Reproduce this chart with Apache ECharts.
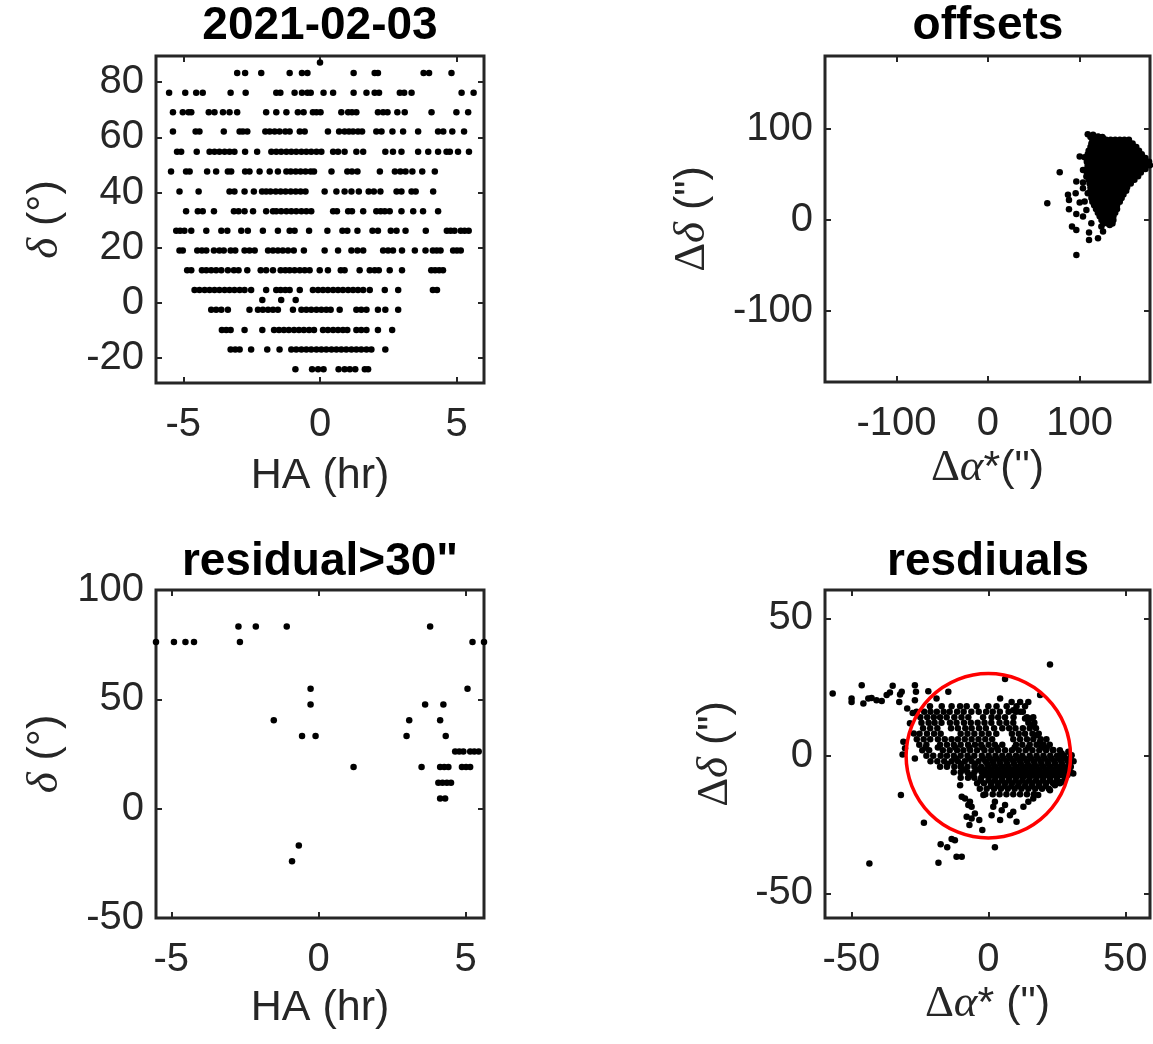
<!DOCTYPE html>
<html><head><meta charset="utf-8">
<script src="https://cdn.jsdelivr.net/npm/echarts@6/dist/echarts.min.js"></script>
<style>html,body{margin:0;padding:0;background:#fff}#c{width:1153px;height:1044px}</style>
</head><body><div id="c"></div>
<script>
// ---------- Panel 1: 2021-02-03 (HA hr, dec deg) ----------
const decRowValues = [87.1, 83.3, 76.2, 69.1, 62.1, 54.8, 47.6, 40.4, 33.2, 26.2, 19.0, 11.9, 4.7, 1.1, -2.5, -9.8, -16.9, -24.0];
const haDec87 = [0.00];
const haDec83 = [-3.03,-2.74,-2.15,-1.11,-0.66,-0.46,1.23,2.00,2.12,3.79,3.99,4.81];
const haDec76 = [-5.52,-4.93,-4.53,-4.29,-3.27,-2.72,-1.60,-1.45,-0.93,-0.66,-0.46,-0.34,0.13,0.48,1.23,1.70,2.00,2.16,2.92,3.08,3.35,5.18,5.62];
const haDec69 = [-5.38,-5.02,-4.81,-4.71,-4.07,-3.86,-3.55,-3.31,-3.03,-1.97,-1.60,-1.23,-0.81,-0.60,-0.26,-0.13,0.02,0.78,1.03,1.17,1.33,2.12,2.31,2.47,2.83,3.10,4.08,4.99,5.42];
const haDec62 = [-5.38,-4.55,-4.41,-3.52,-2.94,-2.82,-2.66,-2.00,-1.84,-1.66,-1.48,-1.27,-1.11,-0.74,-0.56,0.29,0.70,0.90,1.06,1.21,1.39,1.54,2.06,2.25,2.65,3.04,3.59,4.32,4.51,4.84,5.27];
const haDec55 = [-5.23,-5.08,-4.51,-4.04,-3.86,-3.68,-3.49,-3.31,-3.13,-2.74,-2.30,-1.78,-1.60,-1.42,-1.23,-1.05,-0.87,-0.68,-0.50,-0.32,-0.13,0.05,0.48,0.66,0.90,1.33,1.58,2.39,2.67,2.98,3.59,3.96,4.32,4.63,4.75,5.05,5.45];
const haDec48 = [-5.45,-4.90,-4.77,-4.13,-3.80,-3.37,-3.25,-2.74,-2.58,-2.21,-1.84,-1.54,-1.23,-1.07,-0.89,-0.71,-0.53,-0.34,-0.22,0.42,1.00,1.17,1.37,2.19,2.74,2.94,3.13,3.38,3.74,4.20];
const haDec40 = [-5.14,-4.44,-3.31,-3.13,-2.76,-2.42,-2.12,-1.97,-1.81,-1.62,-1.44,-1.26,-1.07,-0.89,-0.71,-0.53,0.17,0.60,0.90,1.15,1.42,1.78,1.97,2.21,2.80,2.98,3.35,3.50,4.14];
const haDec33 = [-4.90,-4.47,-4.29,-3.88,-3.15,-2.98,-2.76,-2.45,-1.97,-1.72,-1.60,-1.42,-1.23,-1.05,-0.87,-0.68,-0.50,-0.32,0.48,0.62,1.03,1.17,1.58,2.06,2.22,2.37,2.55,2.98,3.41,3.77,4.32];
const haDec26 = [-5.26,-5.12,-4.96,-4.71,-4.16,-3.61,-3.39,-2.88,-2.64,-2.09,-1.54,-1.11,-0.93,-0.40,0.27,0.82,1.00,1.37,1.92,2.12,2.59,2.80,3.13,3.87,4.64,4.78,4.92,5.15,5.29,5.44];
const haDec19 = [-5.14,-5.02,-4.49,-4.32,-4.16,-3.88,-3.68,-3.52,-3.27,-3.10,-2.76,-2.58,-2.39,-1.90,-1.72,-1.54,-1.36,-1.17,-0.96,-0.59,0.17,0.66,1.15,1.37,1.58,2.31,2.49,2.67,3.00,3.47,3.86,4.13,4.27,4.41,4.87,5.01,5.15];
const haDec12 = [-4.86,-4.71,-4.32,-4.16,-3.98,-3.80,-3.61,-3.37,-3.15,-2.98,-2.66,-2.17,-1.97,-1.72,-1.44,-1.27,-1.11,-0.93,-0.74,-0.56,-0.38,-0.01,0.29,0.76,0.90,1.45,1.82,2.00,2.15,2.55,3.00,4.07,4.21,4.36,4.50];
const haDec5 = [-4.59,-4.41,-4.22,-4.04,-3.86,-3.68,-3.49,-3.31,-3.13,-2.94,-2.76,-2.52,-1.97,-1.60,-1.44,-1.27,-1.11,-0.74,-0.26,-0.07,0.11,0.29,0.48,0.66,0.84,1.03,1.21,1.39,1.58,1.82,2.37,2.86,4.13,4.28];
const haDec1 = [-2.11,-1.42,-0.89];
const haDecM2 = [-3.98,-3.80,-3.61,-3.37,-2.58,-2.27,-2.09,-1.90,-1.72,-1.54,-0.99,-0.68,-0.50,-0.32,-0.13,0.05,0.23,0.39,0.72,1.33,1.51,1.70,2.12,2.39,2.86];
const haDecM10 = [-3.59,-3.43,-3.27,-2.76,-2.11,-1.68,-1.50,-1.32,-1.14,-0.95,-0.77,-0.59,-0.40,-0.22,0.11,0.29,0.48,0.66,0.84,1.00,1.33,1.51,1.70,2.12,2.64];
const haDecM17 = [-3.27,-3.10,-2.94,-2.52,-1.93,-1.48,-1.05,-0.87,-0.68,-0.50,-0.32,-0.13,0.05,0.23,0.42,0.60,0.78,0.96,1.15,1.33,1.51,1.70,1.88,2.39];
const haDecM24 = [-0.90,-0.29,-0.07,0.13,0.68,0.90,1.09,1.29,1.64,1.76];
const haRows = [haDec87,haDec83,haDec76,haDec69,haDec62,haDec55,haDec48,haDec40,haDec33,haDec26,haDec19,haDec12,haDec5,haDec1,haDecM2,haDecM10,haDecM17,haDecM24];

// ---------- Panel 3: residual>30" (HA, dec) ----------
const bigResidualPoints = [[-5.52,76.2],[-4.91,76.2],[-4.52,76.2],[-4.23,76.2],[-2.72,83.3],[-2.67,76.2],[-2.13,83.3],[-1.08,83.3],
 [-0.27,54.8],[-0.27,47.6],[-1.52,40.4],[-0.56,33.2],[-0.10,33.2],[1.19,19.0],[-0.67,-16.9],[-0.90,-24.0],[3.79,83.3],[5.23,76.2],[5.62,76.2],
 [5.06,54.8],[3.62,47.6],[4.24,47.6],[3.08,40.4],[4.13,40.4],[2.99,33.2],[4.32,33.2],[4.64,26.2],[4.78,26.2],[4.92,26.2],[5.15,26.2],[5.29,26.2],[5.44,26.2],
 [3.50,19.0],[4.13,19.0],[4.27,19.0],[4.41,19.0],[4.87,19.0],[5.01,19.0],[5.15,19.0],[4.07,11.9],[4.21,11.9],[4.36,11.9],[4.50,11.9],[4.13,4.7],[4.30,4.7]];

// ---------- Panel 2: offsets (arcsec) ----------
const offsetSparse = [[64.8,18.3],[78.4,52.4],[96.6,-38.5],[100.2,69.6],[105.6,68.9],[96.5,42.1],[103.8,41.0],[87.4,27.5],[88.5,22.0],[95.8,29.3],
 [100.2,19.0],[105.6,20.1],[88.5,11.7],[96.5,6.6],[103.8,3.7],[91.8,-7.3],[96.5,-11.0],[110.4,-13.9],[110.4,-22.0],[120.2,-20.1],[112.9,-3.7],
 [123.9,-7.3],[125.7,-12.8],[133.0,-5.5],[107.5,11.0],[109.0,29.3],[103.8,34.8],[107.5,47.6],[103.8,54.9],[114.8,93.4],[120.2,91.6],[125.7,89.7]];
const offsetCoreY = [94, 91, 88, 84, 80, 76, 72, 68, 64, 60, 56, 52, 48, 44, 40, 36, 32, 28, 24, 20, 16, 12, 8, 4, 0, -4];
const offX94 = [109];
const offX91 = [112,116,121,125];
const offX88 = [114,119,124,129,134,139,144,149,154];
const offX84 = [113,118,123,128,133,138,143,148,153,158];
const offX80 = [112,117,122,127,132,137,142,147,152,157,162];
const offX76 = [110,115,120,125,130,135,140,145,150,155,160,165];
const offX72 = [109,114,119,124,129,134,139,144,149,154,159,164,168];
const offX68 = [108,113,118,123,128,133,138,143,148,153,158,163,168,172];
const offX64 = [108,113,118,123,128,133,138,143,148,153,158,163,168,172,176];
const offX60 = [109,114,119,124,129,134,139,144,149,154,159,164,169,174,177];
const offX56 = [108,113,118,123,128,133,138,143,148,153,158,163,168,172];
const offX52 = [108,113,118,123,128,133,138,143,148,153,158,163,167];
const offX48 = [109,114,119,124,129,134,139,144,149,154,159,164];
const offX44 = [110,115,120,125,130,135,140,145,150,155,160];
const offX40 = [111,116,121,126,131,136,141,146,151,156];
const offX36 = [112,117,122,127,132,137,142,147,152];
const offX32 = [112,117,122,127,132,137,142,147,151];
const offX28 = [113,118,123,128,133,138,143,148];
const offX24 = [113,118,123,128,133,138,143,146];
const offX20 = [114,119,124,129,134,139,144];
const offX16 = [116,121,126,131,136,141];
const offX12 = [118,123,128,133,138,141];
const offX8 = [120,125,130,135,139];
const offX4 = [122,127,132,137];
const offX0 = [124,129,134,137];
const offXm4 = [126,131,136];
const offRows = [offX94,offX91,offX88,offX84,offX80,offX76,offX72,offX68,offX64,offX60,offX56,offX52,offX48,offX44,offX40,offX36,offX32,offX28,offX24,offX20,offX16,offX12,offX8,offX4,offX0,offXm4];

// ---------- Panel 4: residuals (arcsec) ----------
const residSparse = [[22.5,33.2],[-56.8,22.7],[-46.2,25.7],[-49.9,20.8],[-49.9,19.6],[-45.6,19.0],[-43.8,20.8],[-42.6,21.0],[-40.8,20.2],[-38.9,19.9],
 [-37.1,22.1],[-35.9,23.0],[-34.9,25.5],[-32.2,22.3],[-31.6,23.3],[-32.5,19.6],[-26.8,25.7],[-26.4,23.3],[-26.8,20.2],[-21.9,23.5],[-18.9,20.8],
 [-14.6,23.3],[6.1,27.9],[18.9,22.1],[-29.6,17.2],[-27.6,15.6],[-28.6,11.8],[-27.2,8.1],[-31.0,5.1],[-30.4,2.7],[-31.3,0.5],[-26.8,-1.0],
 [-31.9,-14.3],[-23.5,-24.4],[-43.4,-39.2],[-18.2,-38.9],[-17.4,-32.2],[-15.0,-33.3],[-13.4,-30.3],[-12.2,-30.7],[-11.6,-36.7],[-9.7,-36.7],
 [2.4,-33.3],[-2.2,-27.0],[-7.9,-22.2],[-6.1,-22.8],[-4.9,-21.0],[-3.3,-23.4],[-6.9,-25.2],[-10.3,-10.7],[-9.7,-14.9],[-8.5,-15.5],[-7.3,-17.9],
 [-6.7,-16.7],[-6.1,-18.5],[-1.8,-14.3],[1.8,-18.5],[1.2,-21.6],[2.4,-16.7],[4.9,-19.8],[6.1,-17.9],[7.9,-21.6],[9.1,-20.4],[10.3,-24.0],[4.3,-23.4],
 [12.8,-18.5],[14.6,-16.7],[16.4,-15.5],[18.2,-14.3],[31.0,-6.4],[30.4,0.2],[29.2,1.5],[26.8,0.8],[23.7,2.1],[26.2,-1.0],[22.5,-12.5],[24.3,-10.7],
 [26.8,-9.5],[28.0,-7.0],[29.2,-4.0],[4.3,20.8],[8.5,19.6],[11.6,19.6],[14.6,19.6],[9.1,16.6],[11.6,16.0],[13.4,13.6],[15.2,13.6],[16.4,11.2],
 [17.6,7.5],[18.9,5.1],[20.1,3.9],[21.3,2.7]];
const residCoreY = [18, 16, 14, 12, 10, 8, 6, 4, 3, 2, 0, -1, -2, -3, -4, -5, -6, -7, -8, -9, -10, -11, -12, -14];
const resX18 = [-21.3,-17.0,-13.4,-10.3,-7.9,-4.3,0.0,3.0,6.7,10.3,13.4];
const resX16 = [-26.2,-23.4,-21.1,-18.8,-16.3,-14.1,-11.4,-9.0,-6.2,-3.5,-0.8,1.6,4.2,7.4,10.1,12.6];
const resX14 = [-24.8,-22.3,-19.9,-17.6,-15.2,-12.4,-9.8,-7.3,-1.9,1.2,3.6,6.1,9.2,14.1,16.4];
const resX12 = [-24.4,-21.8,-19.6,-17.1,-14.0,-11.6,-8.9,-6.4,-3.9,-1.4,1.1,4.1,6.6,9.1,14.6,16.8];
const resX10 = [-23.8,-21.2,-18.6,-13.6,-11.1,-8.4,-6.1,-3.4,-0.9,2.1,5.1,7.6,9.9,12.6,15.1,17.4];
const resX8 = [-25.1,-22.4,-19.8,-17.4,-10.1,-7.6,-5.1,-2.4,0.1,2.9,8.6,11.1,13.4,16.1,18.4];
const resX6 = [-26.1,-23.6,-21.2,-18.4,-15.9,-13.4,-11.1,-8.6,-6.1,-3.6,-1.1,1.4,9.1,11.6,14.1,16.4,19.1,21.2];
const resX4 = [-25.2,-22.6,-17.6,-15.1,-12.6,-10.1,-7.4,-4.9,-2.6,0.1,2.4,5.1,10.1,12.4,15.1,17.6,20.1,22.4];
const resX3 = [-22.9,-18.4,-12.1,-6.9,-2.1,3.1,9.6,14.6,19.4];
const resX2 = [-24.1,-21.6,-16.6,-14.1,-11.4,-9.1,-6.6,-4.1,-1.4,1.1,3.6,6.1,8.6,11.1,13.6,16.1,18.6,21.1,23.6,26.1];
const resX0 = [-22.6,-20.1,-17.4,-15.1,-12.6,-10.1,-7.6,-5.1,-2.4,0.1,2.6,5.1,7.6,10.1,12.4,15.1,17.6,20.1,22.6,25.1,27.6,30.1];
const resXm1 = [-11.9,-6.9,-1.9,0.6,3.1,5.6,8.1,10.6,13.1,15.6,18.1,20.6,23.1,25.6,28.1];
const resXm2 = [-21.1,-18.6,-16.1,-13.4,-11.1,-8.6,-6.1,-3.6,-1.1,1.6,4.1,6.6,9.1,11.6,14.1,16.6,19.1,21.6,24.1,26.6,29.1,31.1];
const resXm3 = [-14.9,-9.9,-4.9,-0.4,1.9,4.4,6.9,9.4,11.9,14.4,16.9,19.4,21.9,24.4,26.9,29.4];
const resXm4 = [-17.6,-15.1,-12.4,-10.1,-7.6,-5.1,-2.6,0.1,2.6,5.1,7.4,10.1,12.6,15.1,17.6,20.1,22.6,25.1,27.4,30.1];
const resXm5 = [-8.9,-3.9,-1.4,1.1,3.6,6.1,8.6,11.1,13.6,16.1,18.6,21.1,23.6,26.1,28.6];
const resXm6 = [-12.6,-10.1,-7.6,-5.1,-2.4,0.1,2.6,5.1,7.6,10.1,12.6,15.1,17.4,20.1,22.6,25.1,27.6,30.1];
const resXm7 = [-6.4,-1.4,1.4,3.9,6.4,8.9,11.4,13.9,16.4,18.9,21.4,23.9,26.4,28.9];
const resXm8 = [-10.1,-7.4,-5.1,-2.6,0.1,2.6,5.1,7.6,10.1,12.6,15.1,17.6,20.1,22.6,25.1,27.9];
const resXm9 = [-2.9,0.1,2.4,4.9,7.4,9.9,12.4,14.9,17.4,19.9,22.4,24.9];
const resXm10 = [-4.1,-1.6,1.1,3.6,6.1,8.6,11.1,13.6,16.1,18.6,21.1,23.6,26.1];
const resXm11 = [0.9,3.4,5.9,8.4,10.9,13.4,15.9,18.4,20.9];
const resXm12 = [-3.1,-0.6,2.1,4.6,7.1,9.6,12.1,14.6,17.1,19.6,22.1];
const resXm14 = [-1.1,1.6,4.1,6.6,9.1,11.6,14.1,16.6];
const resRows = [resX18,resX16,resX14,resX12,resX10,resX8,resX6,resX4,resX3,resX2,resX0,resXm1,resXm2,resXm3,resXm4,resXm5,resXm6,resXm7,resXm8,resXm9,resXm10,resXm11,resXm12,resXm14];
const circleCenter = [0, 0];
const circleRadius = 30;

// ---------- Axis ticks ----------
const ticksHA1 = [-5, 0, 5];
const ticksDec1 = [-20, 0, 20, 40, 60, 80];
const ticksOff = [-100, 0, 100];
const ticksHA3 = [-5, 0, 5];
const ticksDec3 = [-50, 0, 50, 100];
const ticksRes = [-50, 0, 50];

// ---------- Build series data ----------
function rowsToPairs(rows, ys) {
  const out = [];
  rows.forEach((xs, i) => xs.forEach(x => out.push([x, ys[i]])));
  return out;
}
const panel1Data = rowsToPairs(haRows, decRowValues);
const offsetData = offsetSparse.concat(rowsToPairs(offRows, offsetCoreY));
const residData = residSparse.concat(rowsToPairs(resRows, residCoreY));

const C = '#262626';
const SANS = 'Liberation Sans';
const SERIF = 'Liberation Serif';
const TICK_FS = 40, NAME_FS = 43;
const richMath = {
  g: {fontFamily: SERIF, fontStyle: 'italic', fontSize: NAME_FS + 2, color: C},
  u: {fontFamily: SERIF, fontSize: NAME_FS + 2, color: C}
};

const grids = [
  {left: 156, top: 56, width: 328, height: 327},
  {left: 825, top: 56, width: 325, height: 326},
  {left: 156, top: 590, width: 328, height: 328},
  {left: 825, top: 590, width: 325, height: 328}
].map(g => Object.assign({show: true, borderColor: C, borderWidth: 3, backgroundColor: 'transparent'}, g));

const xAxes = [], yAxes = [];
function addAxes(gi, xr, yr, xt, yt, xName, yName, xGap, yGap) {
  const tick = vals => ({show: true, inside: true, length: 6, lineStyle: {color: C, width: 2}, customValues: vals});
  const lab = (vals, m) => ({show: true, customValues: vals, color: C, fontSize: TICK_FS, fontFamily: SANS, margin: m});
  const nts = {fontSize: NAME_FS, fontFamily: SANS, color: C, rich: richMath};
  xAxes.push({type: 'value', gridIndex: gi, position: 'bottom', min: xr[0], max: xr[1],
    axisLine: {show: false, onZero: false}, axisTick: tick(xt), axisLabel: lab(xt, 22), splitLine: {show: false},
    name: xName, nameLocation: 'middle', nameGap: xGap, nameTextStyle: nts});
  xAxes.push({type: 'value', gridIndex: gi, position: 'top', min: xr[0], max: xr[1],
    axisLine: {show: false, onZero: false}, axisTick: tick(xt), axisLabel: {show: false}, splitLine: {show: false}});
  yAxes.push({type: 'value', gridIndex: gi, position: 'left', min: yr[0], max: yr[1],
    axisLine: {show: false, onZero: false}, axisTick: tick(yt), axisLabel: lab(yt, 12), splitLine: {show: false},
    name: yName, nameLocation: 'middle', nameGap: yGap, nameRotate: 90, nameTextStyle: nts});
  yAxes.push({type: 'value', gridIndex: gi, position: 'right', min: yr[0], max: yr[1],
    axisLine: {show: false, onZero: false}, axisTick: tick(yt), axisLabel: {show: false}, splitLine: {show: false}});
}
addAxes(0, [-6, 6], [-29, 89.5], ticksHA1, ticksDec1, 'HA (hr)', '{g|δ} (°)', 72, 88);
addAxes(1, [-178, 177], [-178, 180], ticksOff, ticksOff, '{u|Δ}{g|α}*(")', '{u|Δ}{g|δ} (")', 64, 110);
addAxes(2, [-5.52, 5.62], [-50, 100], ticksHA3, ticksDec3, 'HA (hr)', '{g|δ} (°)', 69, 88);
addAxes(3, [-59.6, 59], [-59, 60.3], ticksRes, ticksRes, '{u|Δ}{g|α}* (")', '{u|Δ}{g|δ} (")', 64, 87);

function scatter(gi, data, size) {
  return {type: 'scatter', xAxisIndex: gi * 2, yAxisIndex: gi * 2, data: data, symbolSize: size,
    itemStyle: {color: '#000', opacity: 1}, silent: true, z: 3, large: false};
}

const titleStyle = {fontSize: 46, fontWeight: 'bold', fontFamily: SANS, color: '#000'};
const option = {
  animation: false,
  backgroundColor: '#fff',
  title: [
    {text: '2021-02-03', left: 320, top: 3, textAlign: 'center', padding: 0, textStyle: titleStyle},
    {text: 'offsets', left: 988, top: 3, textAlign: 'center', padding: 0, textStyle: titleStyle},
    {text: 'residual>30"', left: 320, top: 539, textAlign: 'center', padding: 0, textStyle: titleStyle},
    {text: 'resdiuals', left: 988, top: 539, textAlign: 'center', padding: 0, textStyle: titleStyle}
  ],
  grid: grids,
  xAxis: xAxes,
  yAxis: yAxes,
  series: [
    scatter(0, panel1Data, 6.5),
    scatter(1, offsetData, 6.5),
    scatter(2, bigResidualPoints, 6.5),
    scatter(3, residData, 6.5),
    {
      type: 'custom', xAxisIndex: 6, yAxisIndex: 6, silent: true, z: 4,
      data: [[circleCenter[0], circleCenter[1], circleRadius]],
      renderItem: function (params, api) {
        const c = api.coord([api.value(0), api.value(1)]);
        const r = api.size([api.value(2), api.value(2)])[0];
        return {type: 'circle', shape: {cx: c[0], cy: c[1], r: r},
          style: {fill: null, stroke: '#ff0000', lineWidth: 3.5}};
      }
    }
  ]
};
const chart = echarts.init(document.getElementById('c'), null, {renderer: 'canvas'});
chart.setOption(option);
</script></body></html>
